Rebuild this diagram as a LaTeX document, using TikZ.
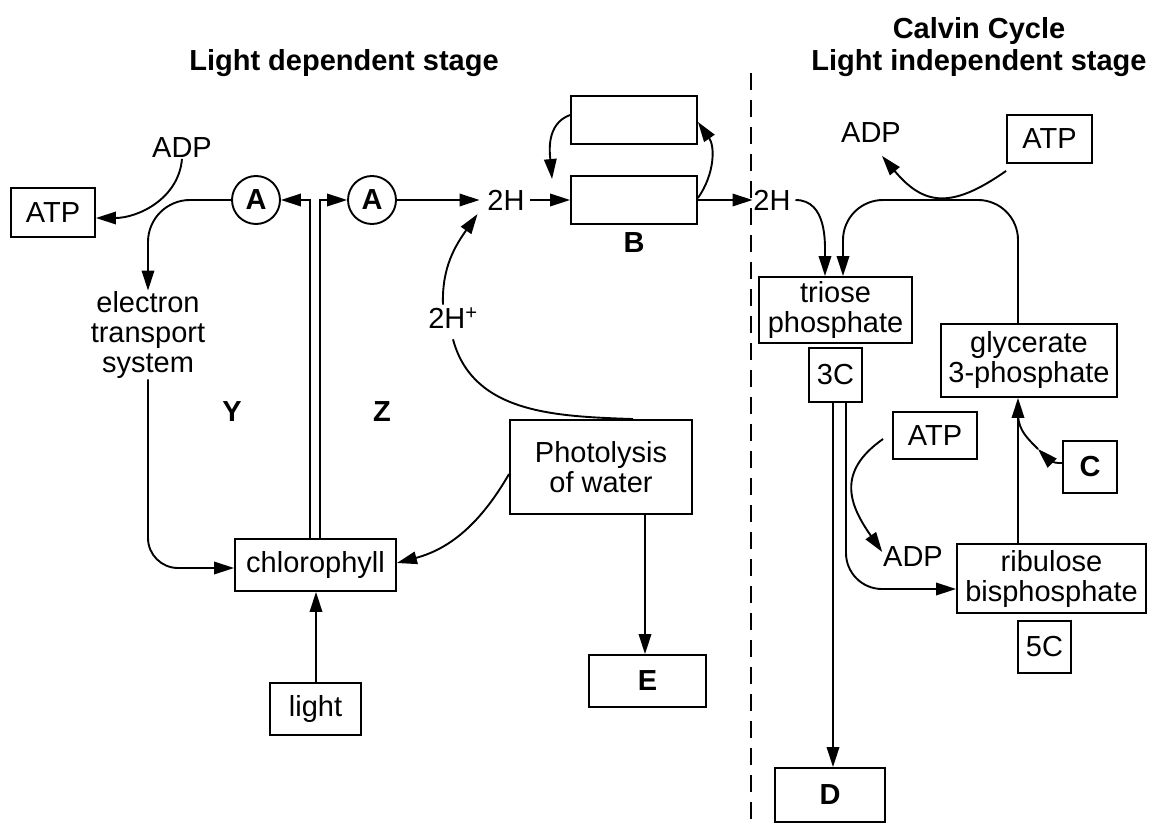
\documentclass[tikz,border=0pt]{standalone}
\usepackage{fontspec}
\setmainfont{Liberation Sans}
\usetikzlibrary{arrows.meta}

\tikzset{
  box/.style={draw, inner sep=0pt, align=center},
  lbl/.style={inner sep=0pt, align=center},
  bold/.style={font=\fontsize{29}{30}\selectfont\bfseries},
  arr/.style={-{Triangle[length=20pt,width=12.5pt]}},
}

\begin{document}
\begin{tikzpicture}[x=1pt, y=1pt, line width=1.9pt, font=\fontsize{29}{30}\selectfont]
  \useasboundingbox (0,0) rectangle (1156,-826);

  % Titles
  \node[lbl,bold] (ttlL) at (344,-63) {Light dependent stage};
  \node[lbl,font=\fontsize{29}{32}\selectfont\bfseries] (ttlR) at (979,-47) {Calvin Cycle\\Light independent stage};

  % Dividing line
  \coordinate (septop) at (751,-73);
  \coordinate (sepbot) at (751,-826);
  \draw[line width=1.2pt, dash pattern=on 17pt off 10pt] (septop) -- (sepbot);

  % Light dependent stage
  \node[box, minimum width=84, minimum height=49] (atpL) at (53,-212.5) {ATP};
  \node[lbl] (adpL) at (182,-148) {ADP};
  \node[circle, draw, inner sep=0pt, minimum size=48, bold] (a1) at (256,-200) {A};
  \node[circle, draw, inner sep=0pt, minimum size=48, bold] (a2) at (372,-200) {A};
  \node[lbl] (ets) at (148,-335) {electron\\transport\\system};
  \node[box, minimum width=161, minimum height=52] (chl) at (315.5,-565) {chlorophyll};
  \node[box, minimum width=91, minimum height=52] (light) at (315.5,-709) {light};
  \node[lbl,bold] (y) at (232,-412) {Y};
  \node[lbl,bold] (z) at (382,-412) {Z};
  \node[box, minimum width=182, minimum height=94] (photo) at (601,-467) {Photolysis\\of water};
  \node[box, bold, minimum width=117, minimum height=52] (e) at (647.5,-681) {E};
  \node[lbl] (hplus) at (453,-318) {2H\textsuperscript{+}};
  \node[lbl] (h2a) at (506,-200) {2H};
  \node[box, minimum width=126, minimum height=48] (bhi) at (634,-120) {};
  \node[box, minimum width=126, minimum height=48] (blo) at (634,-200) {};
  \node[lbl,bold] (b) at (634,-243) {B};

  \draw[arr] ([xshift=-5.5pt]chl.north) |- (a1.east);
  \draw[arr] ([xshift=4.5pt]chl.north) |- (a2.west);
  \draw[arr, rounded corners=42] (a1.west) -| (ets.north);
  \draw[arr] (adpL.south) to[out=-95,in=0] ([yshift=-5.5pt]atpL.east);
  \draw[arr, rounded corners=30] (ets.south) |- ([yshift=-3pt]chl.west);
  \draw[arr] ([xshift=0.5pt]light.north) -- ([xshift=0.5pt]chl.south);
  \draw[arr] ([yshift=-7pt]photo.west) to[out=-120,in=15] ([yshift=2pt]chl.east);
  \draw[arr] ([xshift=-2.5pt]e.north |- photo.south) -- ([xshift=-2.5pt]e.north);
  \draw ([yshift=-10pt]hplus.south) to[out=-75,in=178] ([xshift=32pt]photo.north);
  \draw[arr] ([xshift=-10pt,yshift=2pt]hplus.north) to[out=92,in=-125] ([xshift=-9pt,yshift=-3pt]h2a.south west);
  \draw[arr, shorten >=7pt] (a2) -- (h2a);
  \draw[arr, shorten <=5pt] (h2a) -- (blo);
  \draw[arr] ([yshift=5pt]bhi.west) to[out=200,in=95] ([xshift=-18pt,yshift=-4pt]blo.north west);
  \draw[arr] ([yshift=2pt]blo.east) to[out=55,in=-55] ([yshift=-2pt]bhi.east);

  % Calvin cycle
  \node[lbl] (h2b) at (772,-200) {2H};
  \node[lbl] (adpR) at (871,-133) {ADP};
  \node[box, minimum width=85, minimum height=48] (atpR) at (1049.5,-139) {ATP};
  \node[box, minimum width=153, minimum height=66] (trio) at (835.5,-310) {triose\\phosphate};
  \node[box, minimum width=53, minimum height=54] (c3) at (835.5,-375) {3C};
  \node[box, minimum width=176, minimum height=73] (glyc) at (1029,-360.5) {glycerate\\3-phosphate};
  \node[box, minimum width=84, minimum height=47] (atpM) at (935,-435.5) {ATP};
  \node[box, bold, minimum width=54, minimum height=52] (c) at (1090,-467) {C};
  \node[lbl] (adpM) at (913,-557) {ADP};
  \node[box, minimum width=189, minimum height=69] (rubp) at (1051.5,-578.5) {ribulose\\bisphosphate};
  \node[box, minimum width=53, minimum height=52] (c5) at (1044.5,-647) {5C};
  \node[box, bold, minimum width=110, minimum height=54] (d) at (830,-795) {D};
  \coordinate (cmid) at (1038,-449);
  \coordinate (cend) at (1018,-416);

  \draw[arr] (blo.east) -- (h2b.west);
  \draw[arr] ([xshift=4pt]h2b.east) to[out=0,in=90] ([xshift=-10.5pt]trio.north);
  \draw[arr, rounded corners=40] ([xshift=-11pt]glyc.north) |- ([xshift=7.5pt]trio.north |- h2b.center) -- ([xshift=7.5pt]trio.north);
  \draw[arr] ([yshift=-7pt]atpR.south west) to[out=-145,in=-50,looseness=1.35] ([xshift=11pt,yshift=-12pt]adpR.south);
  \draw[arr] ([xshift=-2.5pt]c3.south) -- ([xshift=-2.5pt]c3.south |- d.north);
  \draw[arr, rounded corners=36] ([xshift=10.5pt]c3.south) |- ([yshift=-10.5pt]rubp.west);
  \draw[arr] ([xshift=-9pt,yshift=-3.5pt]atpM.west) to[out=-145,in=125,looseness=1.3] ([yshift=5pt]adpM.west);
  \draw[arr] ([xshift=-33.5pt]rubp.north) -- ([xshift=-33.5pt]rubp.north |- glyc.south);
  \draw[arr] ([yshift=4pt]c.west) to[out=185,in=-45] (cmid);
  \draw (cmid) to[out=135,in=-85] (cend);
\end{tikzpicture}
\end{document}
